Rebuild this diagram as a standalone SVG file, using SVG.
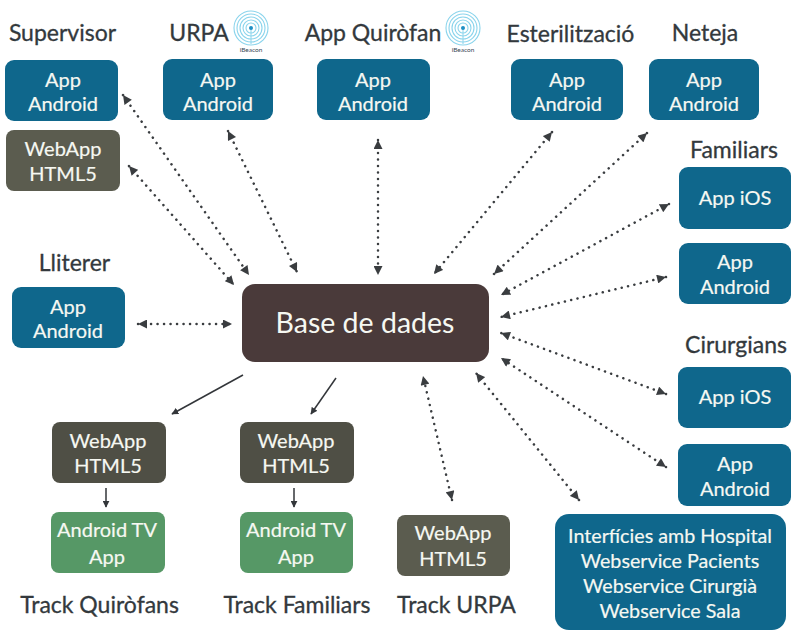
<svg xmlns="http://www.w3.org/2000/svg" width="791" height="630" viewBox="0 0 791 630">
<style>
text{font-family:Lato,"Open Sans","Liberation Sans",sans-serif;text-anchor:middle}
.h{font-size:23px;fill:#33393d;stroke:#33393d;stroke-width:.3}
.t{font-size:20px;fill:#f6f8f2;stroke:#f6f8f2;stroke-width:.2}
.i{font-size:19.700px}
.blue{fill:#0f678c}
.grey{fill:#5b5c4f}
.dark{fill:#4f4f45}
.green{fill:#569866}
.d{fill:none;stroke:#3a3d40;stroke-width:2.5;stroke-dasharray:.1 6.4;stroke-linecap:round;marker-start:url(#a);marker-end:url(#a)}
.s{fill:none;stroke:#33363a;stroke-width:1.5;marker-end:url(#b)}
.r{fill:none;stroke:#8ad4ec;stroke-width:1.1}
</style>
<defs>
<marker id="a" viewBox="0 0 10 10" refX="10" refY="5" markerWidth="10" markerHeight="9" markerUnits="userSpaceOnUse" orient="auto-start-reverse"><path d="M0 0L10 5L0 10Z" fill="#3a3d40"/></marker>
<marker id="b" viewBox="0 0 10 10" refX="9" refY="5" markerWidth="7" markerHeight="7" markerUnits="userSpaceOnUse" orient="auto"><path d="M0 0L10 5L0 10Z" fill="#33363a"/></marker>
<g id="beacon"><circle r="17" class="r"/><circle r="14" class="r"/><circle r="11" class="r"/><circle r="8" class="r"/><circle r="5" class="r"/><path d="M0 0V16" stroke="#8ad4ec" stroke-width="1"/><circle r="2" fill="#1f8fc4"/><text y="24" style="font-size:6.500px;fill:#3a4a55">iBeacon</text></g>
</defs>
<rect width="791" height="630" fill="#fff"/>
<g id="connectors">
<path class="d" d="M123 95L249 275"/>
<path class="d" d="M129 166L234 285"/>
<path class="d" d="M228 131L297 272"/>
<path class="d" d="M378 140L378 275"/>
<path class="d" d="M552 132L434 274"/>
<path class="d" d="M647 133L494 274"/>
<path class="d" d="M669 204L501 295"/>
<path class="d" d="M666 277L501 317"/>
<path class="d" d="M666 394L501 333"/>
<path class="d" d="M666 467L501 358"/>
<path class="d" d="M579 500L476 373"/>
<path class="d" d="M452 500L423 376"/>
<path class="d" d="M138 324L232 324"/>
<path class="s" d="M243 375L172 414"/>
<path class="s" d="M336 378L311 414"/>
<path class="s" d="M106 488L106 507"/>
<path class="s" d="M294 488L294 507"/>
</g>
<g id="supervisor"><text class="h" x="62.500" y="41">Supervisor</text><rect class="blue" x="5" y="60" width="113" height="61" rx="9"/><text class="t" x="63" y="87">App</text><text class="t" x="63" y="111">Android</text></g>
<g id="supervisor-web"><rect class="grey" x="6" y="130" width="114" height="61" rx="8"/><text class="t" x="63" y="156">WebApp</text><text class="t" x="63" y="181">HTML5</text></g>
<g id="urpa"><text class="h" x="199" y="41">URPA</text><use href="#beacon" x="251" y="28"/><rect class="blue" x="163" y="59" width="110" height="61" rx="9"/><text class="t" x="218" y="87">App</text><text class="t" x="218" y="111">Android</text></g>
<g id="quirofan"><text class="h" x="373" y="41">App Quiròfan</text><use href="#beacon" x="463" y="28"/><rect class="blue" x="317" y="59" width="113" height="61" rx="9"/><text class="t" x="373" y="87">App</text><text class="t" x="373" y="111">Android</text></g>
<g id="esterilitzacio"><text class="h" x="570.500" y="42">Esterilització</text><rect class="blue" x="511" y="59" width="112" height="61" rx="9"/><text class="t" x="567" y="87">App</text><text class="t" x="567" y="111">Android</text></g>
<g id="neteja"><text class="h" x="705" y="41">Neteja</text><rect class="blue" x="649" y="59" width="110" height="61" rx="9"/><text class="t" x="704" y="87">App</text><text class="t" x="704" y="111">Android</text></g>
<g id="familiars-ios"><text class="h" x="734" y="158">Familiars</text><rect class="blue" x="679" y="167" width="112" height="62" rx="9"/><text class="t" x="735" y="205">App iOS</text></g>
<g id="familiars-android"><rect class="blue" x="679" y="243" width="112" height="61" rx="9"/><text class="t" x="735" y="269">App</text><text class="t" x="735" y="294">Android</text></g>
<g id="cirurgians-ios"><text class="h" x="736" y="353">Cirurgians</text><rect class="blue" x="678" y="367" width="113" height="61" rx="9"/><text class="t" x="735" y="404">App iOS</text></g>
<g id="cirurgians-android"><rect class="blue" x="678" y="444" width="113" height="62" rx="9"/><text class="t" x="735" y="471">App</text><text class="t" x="735" y="496">Android</text></g>
<g id="lliterer"><text class="h" x="74.500" y="271">Lliterer</text><rect class="blue" x="12" y="287" width="113" height="61" rx="9"/><text class="t" x="68" y="314">App</text><text class="t" x="68" y="338">Android</text></g>
<g id="base"><rect x="242" y="284" width="247" height="78" rx="13" fill="#4a3a3a"/><text x="365" y="333" style="font-size:28.500px;fill:#f6f8f2">Base de dades</text></g>
<g id="web-quirofans"><rect class="dark" x="52" y="422" width="114" height="61" rx="8"/><text class="t" x="108" y="448">WebApp</text><text class="t" x="108" y="473">HTML5</text></g>
<g id="tv-quirofans"><rect class="green" x="51" y="512" width="114" height="61" rx="8"/><text class="t" x="107" y="537">Android TV</text><text class="t" x="107" y="564">App</text></g>
<text class="h" x="99.500" y="613" id="track-quirofans">Track Quiròfans</text>
<g id="web-familiars"><rect class="dark" x="240" y="422" width="114" height="61" rx="8"/><text class="t" x="296" y="448">WebApp</text><text class="t" x="296" y="473">HTML5</text></g>
<g id="tv-familiars"><rect class="green" x="240" y="512" width="113" height="61" rx="8"/><text class="t" x="296" y="537">Android TV</text><text class="t" x="296" y="564">App</text></g>
<text class="h" x="297" y="613" id="track-familiars">Track Familiars</text>
<g id="web-urpa"><rect class="grey" x="397" y="515" width="113" height="61" rx="8"/><text class="t" x="453" y="540">WebApp</text><text class="t" x="453" y="566">HTML5</text></g>
<text class="h" x="456.500" y="613" id="track-urpa">Track URPA</text>
<g id="interficies"><rect class="blue" x="555" y="514" width="231" height="116" rx="14"/><text class="t i" x="670" y="543">Interfícies amb Hospital</text><text class="t i" x="670" y="568">Webservice Pacients</text><text class="t i" x="670" y="593">Webservice Cirurgià</text><text class="t i" x="670" y="618">Webservice Sala</text></g>
</svg>
